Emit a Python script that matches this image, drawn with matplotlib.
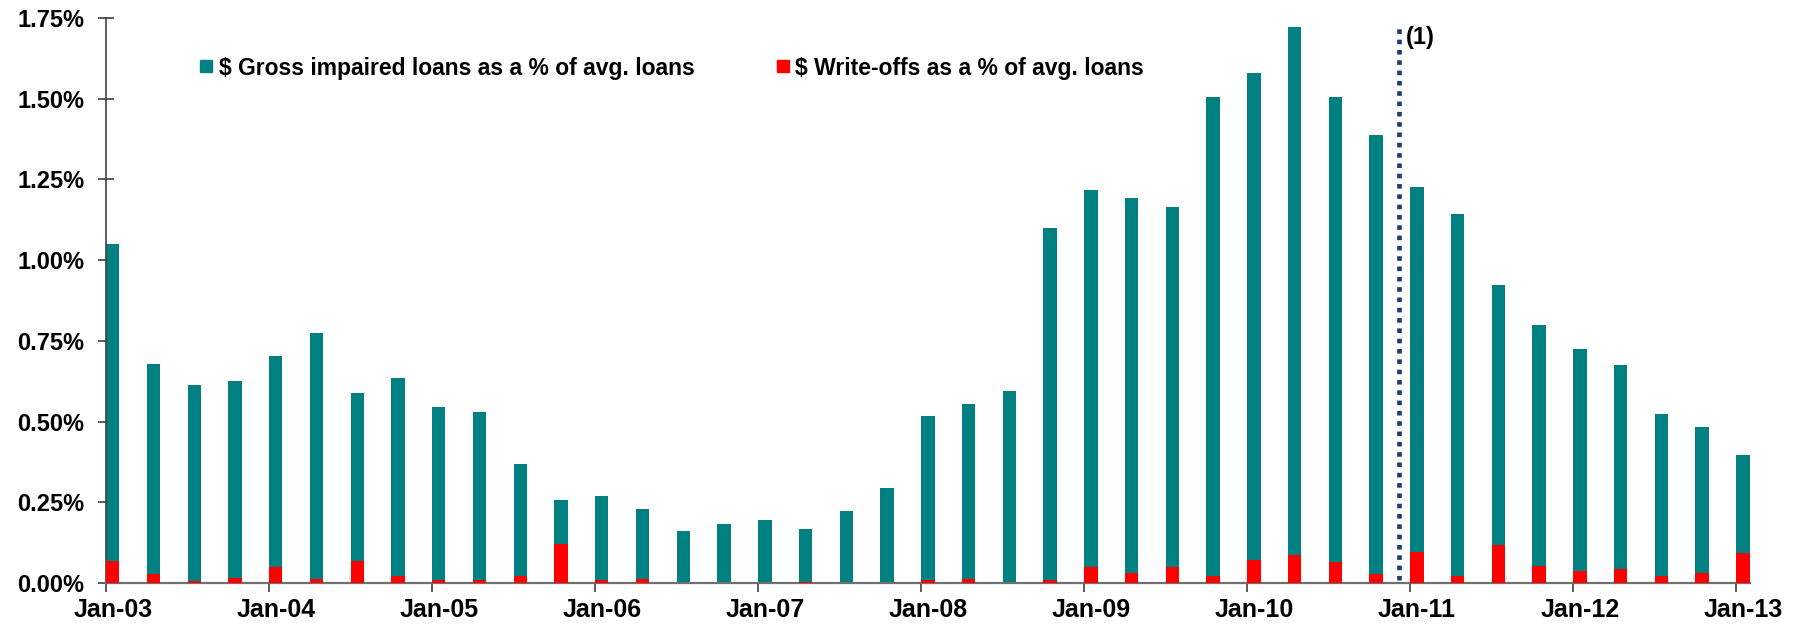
import numpy as np
import matplotlib
matplotlib.use("Agg")
import matplotlib.pyplot as plt
from matplotlib.lines import Line2D
from matplotlib.ticker import FuncFormatter

plt.rcParams['font.family'] = ['Liberation Sans', 'DejaVu Sans']
plt.rcParams['font.weight'] = 'bold'

# quarterly data, Jan-03 .. Jan-13 (in %)
gross_impaired = [1.051, 0.678, 0.612, 0.625, 0.704, 0.775, 0.590, 0.634, 0.545, 0.531,
                  0.370, 0.257, 0.271, 0.228, 0.162, 0.184, 0.194, 0.168, 0.223, 0.294,
                  0.518, 0.553, 0.596, 1.099, 1.216, 1.191, 1.166, 1.505, 1.580, 1.721,
                  1.505, 1.388, 1.228, 1.143, 0.924, 0.800, 0.725, 0.675, 0.523, 0.482,
                  0.395]
write_offs = [0.068, 0.027, 0.007, 0.017, 0.049, 0.011, 0.068, 0.021, 0.009, 0.008,
              0.021, 0.121, 0.008, 0.012, 0.0, 0.0, 0.0, 0.004, 0.0, 0.0,
              0.008, 0.012, 0.0, 0.008, 0.049, 0.030, 0.049, 0.023, 0.070, 0.088,
              0.066, 0.027, 0.095, 0.021, 0.119, 0.052, 0.037, 0.043, 0.021, 0.032,
              0.093]
year_labels = ['Jan-03', 'Jan-04', 'Jan-05', 'Jan-06', 'Jan-07', 'Jan-08',
               'Jan-09', 'Jan-10', 'Jan-11', 'Jan-12', 'Jan-13']
marker_pos = 31.72  # note (1) line, just before Jan-11

teal = '#008080'
red = '#FF0000'
bw = 0.33

fig = plt.figure(figsize=(17.97, 6.26), dpi=100)
ax = fig.add_axes([106/1797, 1 - 583/626, 1644/1797, 565/626])

x = np.arange(len(gross_impaired))
ax.bar(x, gross_impaired, width=bw, align='edge', color=teal, zorder=2)
ax.bar(x, write_offs, width=bw, align='edge', color=red, zorder=3)

ax.plot([marker_pos, marker_pos], [0.01, 1.719], color='#1F3A6E', lw=3.3,
        linestyle=(0, (1, 1.25)), solid_capstyle='butt', zorder=4)
ax.text(marker_pos + 0.17, 1.689, '(1)', fontsize=17, fontweight='bold',
        ha='left', va='center')

ax.set_xlim(0, 40.34)
ax.set_ylim(0, 1.75)

ax.set_yticks(np.arange(0, 1.76, 0.25))
ax.yaxis.set_major_formatter(FuncFormatter(lambda v, p: f'{v:.2f}%'))
ax.tick_params(axis='y', direction='inout', length=11, width=1.2, labelsize=17,
               pad=10, color='#404040')

# tick marks at the year boundaries, labels centred on the bars
ax.set_xticks(np.arange(0, 41, 4), minor=True)
ax.set_xticks(np.arange(0, 41, 4) + bw / 2)
ax.set_xticklabels(year_labels)
ax.tick_params(axis='x', which='major', length=0, labelsize=18, pad=11)
ax.tick_params(axis='x', which='minor', direction='out', length=6.5, width=1.2,
               color='#404040')

for s in ['top', 'right']:
    ax.spines[s].set_visible(False)
ax.spines['left'].set_color('#404040')
ax.spines['left'].set_linewidth(1.2)
ax.spines['bottom'].set_color('#707070')
ax.spines['bottom'].set_linewidth(1.6)

handles = [Line2D([], [], marker='s', ls='none', color=teal, markersize=8),
           Line2D([], [], marker='s', ls='none', color=red, markersize=8)]
ax.legend(handles, ['$ Gross impaired loans as a % of avg. loans',
                    '$ Write-offs as a % of avg. loans'],
          loc='center left', bbox_to_anchor=(0.056, 0.9115), ncol=2,
          frameon=False, fontsize=16.5, handlelength=0.7, handletextpad=0.2,
          columnspacing=3.5, borderpad=0, borderaxespad=0)

fig.savefig('out.png', dpi=100)
